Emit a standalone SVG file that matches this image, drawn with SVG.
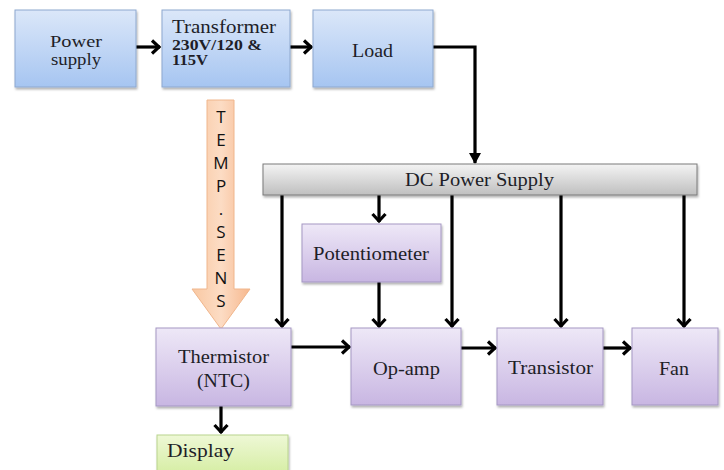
<svg xmlns="http://www.w3.org/2000/svg" width="724" height="470" viewBox="0 0 724 470">
<defs>
  <linearGradient id="gBlue" x1="0" y1="0" x2="0" y2="1">
    <stop offset="0" stop-color="#dbe7f9"/>
    <stop offset="1" stop-color="#a6c5f1"/>
  </linearGradient>
  <linearGradient id="gPurple" x1="0" y1="0" x2="0" y2="1">
    <stop offset="0" stop-color="#eee8f7"/>
    <stop offset="1" stop-color="#c8b6e2"/>
  </linearGradient>
  <linearGradient id="gGreen" x1="0" y1="0" x2="0" y2="1">
    <stop offset="0" stop-color="#eef8d6"/>
    <stop offset="1" stop-color="#d5eda2"/>
  </linearGradient>
  <linearGradient id="gGray" x1="0" y1="0" x2="0" y2="1">
    <stop offset="0" stop-color="#f4f4f4"/>
    <stop offset="1" stop-color="#bfbfbf"/>
  </linearGradient>
  <linearGradient id="gOrange" x1="0" y1="0" x2="1" y2="0">
    <stop offset="0" stop-color="#f9c8a2"/>
    <stop offset="0.5" stop-color="#fcdcc4"/>
    <stop offset="1" stop-color="#f7b88e"/>
  </linearGradient>
  <filter id="sh" x="-10%" y="-10%" width="130%" height="130%">
    <feDropShadow dx="1" dy="2" stdDeviation="1.2" flood-color="#000" flood-opacity="0.3"/>
  </filter>
  <marker id="chev" markerWidth="14" markerHeight="16" refX="11" refY="8" orient="auto" markerUnits="userSpaceOnUse">
    <path d="M3,1.5 L10,8 L3,14.5" fill="none" stroke="#000" stroke-width="3.2" stroke-linejoin="miter"/>
  </marker>
  <marker id="tri" markerWidth="14" markerHeight="14" refX="10" refY="7" orient="auto" markerUnits="userSpaceOnUse">
    <path d="M0,1 L11,7 L0,13 Z" fill="#000"/>
  </marker>
</defs>
<style>
  .blue { fill: url(#gBlue); stroke: #8ea8cf; stroke-width: 1; filter: url(#sh); }
  .purple { fill: url(#gPurple); stroke: #a597c3; stroke-width: 1; filter: url(#sh); }
  .green { fill: url(#gGreen); stroke: #b9d48e; stroke-width: 1; filter: url(#sh); }
  .gray { fill: url(#gGray); stroke: #7a7a7a; stroke-width: 1; filter: url(#sh); }
  .t { font-family: "Liberation Serif", "Times New Roman", serif; font-size: 18px; fill: #1e1e28; }
  .c { text-anchor: middle; }
  .m { font-size: 16px; }
  .b { font-weight: bold; font-size: 14px; }
  .s { font-family: "Open Sans", "Liberation Sans", sans-serif; font-size: 17px; fill: #111; text-anchor: middle; }
  .ln { fill: none; stroke: #000; stroke-width: 3.2; }
</style>

<g id="connectors">
  <path class="ln" d="M136,47 H160" marker-end="url(#chev)"/>
  <path class="ln" d="M290,47 H312" marker-end="url(#chev)"/>
  <path class="ln" d="M433,47 H475 V163" stroke-width="2.8" marker-end="url(#tri)"/>
  <path class="ln" d="M282,195 V327" marker-end="url(#chev)"/>
  <path class="ln" d="M379,195 V222" marker-end="url(#chev)"/>
  <path class="ln" d="M379,282 V327" marker-end="url(#chev)"/>
  <path class="ln" d="M452,195 V327" marker-end="url(#chev)"/>
  <path class="ln" d="M561,195 V327" marker-end="url(#chev)"/>
  <path class="ln" d="M684,195 V327" marker-end="url(#chev)"/>
  <path class="ln" d="M291,347 H350" marker-end="url(#chev)"/>
  <path class="ln" d="M461,348 H496" marker-end="url(#chev)"/>
  <path class="ln" d="M603,348 H631" marker-end="url(#chev)"/>
  <path class="ln" d="M221,406 V433" marker-end="url(#chev)"/>
</g>

<g id="power-supply">
  <rect class="blue" x="15" y="10" width="121" height="77"/>
  <text class="t c m" x="76" y="47" textLength="52" lengthAdjust="spacingAndGlyphs">Power</text>
  <text class="t c m" x="76" y="65" textLength="50" lengthAdjust="spacingAndGlyphs">supply</text>
</g>

<g id="transformer">
  <rect class="blue" x="162" y="10" width="128" height="77"/>
  <text class="t" x="172" y="33" font-size="17" textLength="104" lengthAdjust="spacingAndGlyphs">Transformer</text>
  <text class="t b" x="172" y="49.5" textLength="90" lengthAdjust="spacingAndGlyphs">230V/120 &amp;</text>
  <text class="t b" x="172" y="65" textLength="36" lengthAdjust="spacingAndGlyphs">115V</text>
</g>

<g id="load">
  <rect class="blue" x="313" y="10" width="120" height="77"/>
  <text class="t c" x="372.5" y="57" textLength="41" lengthAdjust="spacingAndGlyphs">Load</text>
</g>

<g id="temp-sens">
  <path d="M207,100 H234 V289 H250 L221,329 L192,289 H207 Z" fill="url(#gOrange)" stroke="#f0b68c" stroke-width="1"/>
  <text class="s" x="221" y="123">T</text>
  <text class="s" x="221" y="146">E</text>
  <text class="s" x="221" y="169">M</text>
  <text class="s" x="221" y="192">P</text>
  <text class="s" x="221" y="215">.</text>
  <text class="s" x="221" y="238">S</text>
  <text class="s" x="221" y="261">E</text>
  <text class="s" x="221" y="284">N</text>
  <text class="s" x="221" y="307">S</text>
</g>

<g id="dc-power-supply">
  <rect class="gray" x="263" y="164" width="434" height="31"/>
  <text class="t c" x="479.5" y="186" textLength="149" lengthAdjust="spacingAndGlyphs">DC Power Supply</text>
</g>

<g id="potentiometer">
  <rect class="purple" x="302" y="224" width="139" height="58"/>
  <text class="t c" x="371" y="260" textLength="116" lengthAdjust="spacingAndGlyphs">Potentiometer</text>
</g>

<g id="thermistor">
  <rect class="purple" x="156" y="328" width="135" height="78"/>
  <text class="t c" x="223.5" y="363" textLength="91" lengthAdjust="spacingAndGlyphs">Thermistor</text>
  <text class="t c" x="223.5" y="387" textLength="53" lengthAdjust="spacingAndGlyphs">(NTC)</text>
</g>

<g id="op-amp">
  <rect class="purple" x="351" y="328" width="110" height="77"/>
  <text class="t c" x="406.5" y="375" textLength="67" lengthAdjust="spacingAndGlyphs">Op-amp</text>
</g>

<g id="transistor">
  <rect class="purple" x="497" y="328" width="106" height="77"/>
  <text class="t c" x="550.5" y="374" textLength="85" lengthAdjust="spacingAndGlyphs">Transistor</text>
</g>

<g id="fan">
  <rect class="purple" x="632" y="328" width="86" height="77"/>
  <text class="t c" x="674" y="375" textLength="30" lengthAdjust="spacingAndGlyphs">Fan</text>
</g>

<g id="display">
  <rect class="green" x="157" y="435" width="131" height="40"/>
  <text class="t" x="167" y="457" textLength="67" lengthAdjust="spacingAndGlyphs">Display</text>
</g>
</svg>
